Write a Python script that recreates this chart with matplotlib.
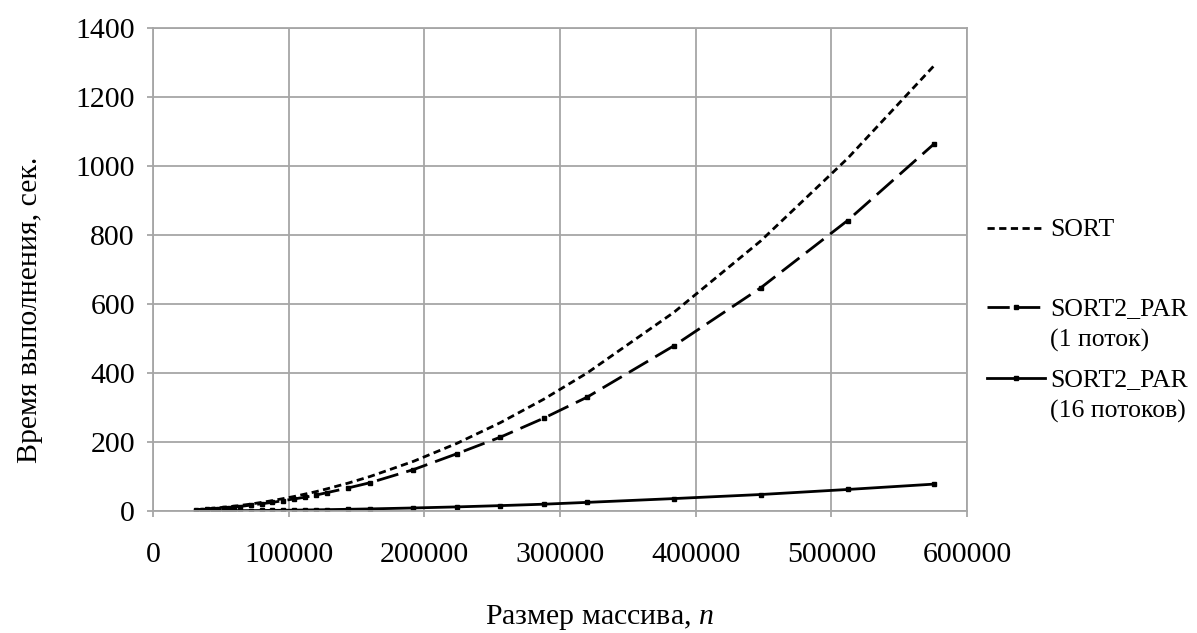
import matplotlib
matplotlib.use("Agg")
import matplotlib.pyplot as plt
from matplotlib.lines import Line2D

plt.rcParams['font.family'] = ['Liberation Serif', 'DejaVu Serif']
plt.rcParams['mathtext.fontset'] = 'custom'
plt.rcParams['mathtext.it'] = 'Liberation Serif:italic'
plt.rcParams['mathtext.rm'] = 'Liberation Serif'

n_values = [32000, 36000, 40000, 44000, 48000, 52000, 56000, 60000, 64000,
            72000, 80000, 88000, 96000, 104000, 112000, 120000, 128000,
            144000, 160000, 192000, 224000, 256000, 288000, 320000,
            384000, 448000, 512000, 576000]

sort_times = [4, 5, 6, 8, 9, 11, 12, 14, 16,
              20, 25, 30, 36, 42, 49, 56, 64,
              81, 100, 144, 196, 256, 324, 400,
              576, 783, 1022, 1292]

sort2_par_1 = [3, 4, 5, 6, 7, 9, 10, 12, 13,
               17, 21, 25, 30, 35, 40, 46, 53,
               67, 82, 120, 166, 214, 269, 330,
               479, 647, 842, 1065]

sort2_par_16 = [0.3, 0.3, 0.4, 0.5, 0.6, 0.7, 0.8, 0.9, 1.0,
                1.2, 1.5, 1.8, 2.1, 2.5, 2.9, 3.4, 3.9,
                5.0, 6.1, 8.8, 11.9, 15.6, 19.7, 25.0,
                36.0, 47.8, 62.4, 78.0]

labels = ["SORT", "SORT2_PAR\n(1 поток)", "SORT2_PAR\n(16 потоков)"]
x_ticks = [0, 100000, 200000, 300000, 400000, 500000, 600000]
y_ticks = [0, 200, 400, 600, 800, 1000, 1200, 1400]

W, H = 1197, 633
FS = 21.5
LFS = 18.5
fig = plt.figure(figsize=(W / 100, H / 100), dpi=100)
ax = fig.add_axes([153 / W, 1 - 511 / H, (967 - 153) / W, (511 - 28) / H])

styles = [
    dict(color='black', lw=2.0, linestyle=(0, (2.6, 1.6))),
    dict(color='black', lw=2.0, linestyle=(0, (8, 3)), marker='s', markersize=2.5),
    dict(color='black', lw=2.0, linestyle='-', marker='s', markersize=2.5),
]
series = [sort_times, sort2_par_1, sort2_par_16]
for ys, st, lab in zip(series, styles, labels):
    ax.plot(n_values, ys, label=lab, **st)

ax.set_xlim(0, 600000)
ax.set_ylim(0, 1400)
ax.set_xticks(x_ticks)
ax.set_yticks(y_ticks)
ax.set_xticklabels([str(v) for v in x_ticks])
ax.set_yticklabels([str(v) for v in y_ticks])
ax.grid(True, color='#a6a6a6', lw=1.3)
ax.set_axisbelow(True)
for s in ax.spines.values():
    s.set_color('#a6a6a6')
    s.set_linewidth(1.3)
ax.tick_params(axis='both', labelsize=FS, color='#a6a6a6', length=4, width=1.3)
ax.tick_params(axis='x', pad=18)
ax.tick_params(axis='y', pad=9)

fig.text(30 / W, 1 - 310 / H, "Время выполнения, сек.", rotation=90,
         ha='center', va='center', fontsize=FS)
fig.text(599 / W, 1 - 617 / H, "Размер массива, $\\mathit{n}$",
         ha='center', va='center', fontsize=FS)

# legend (manual layout, outside the plot on the right)
leg_rows = [228, 307, 378]
x0, x1, xt = 987 / W, 1045 / W, 1050 / W
for ys, st, lab, yr in zip(series, styles, labels, leg_rows):
    yf = 1 - yr / H
    st2 = dict(st)
    if 'marker' in st2:
        st2['markevery'] = [1]
    ln = Line2D([x0, (x0 + x1) / 2, x1], [yf, yf, yf], transform=fig.transFigure, **st2)
    fig.add_artist(ln)
    for i, t in enumerate(lab.split("\n")):
        fig.text(xt, 1 - (yr + 31 * i) / H, t, ha='left', va='center_baseline',
                 fontsize=LFS)

fig.savefig("out.png", dpi=100)
